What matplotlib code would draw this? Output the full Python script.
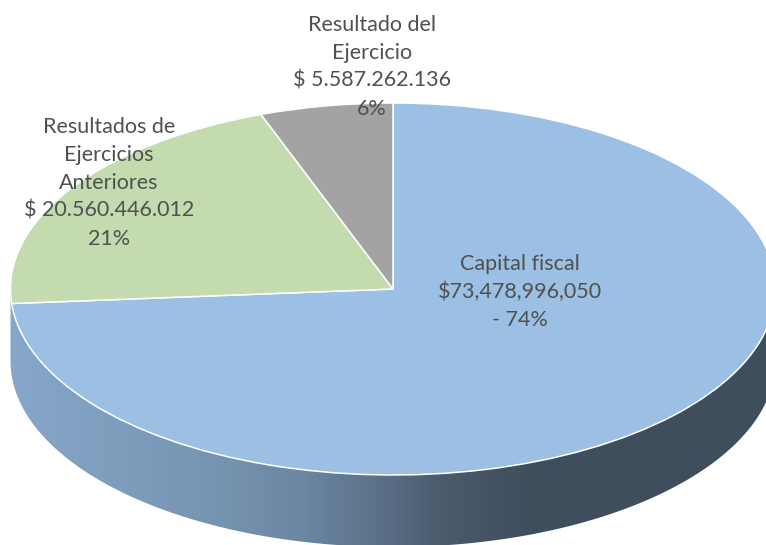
import numpy as np
import matplotlib
matplotlib.use("Agg")
import matplotlib.pyplot as plt
from matplotlib.colors import LinearSegmentedColormap
from matplotlib.patches import Polygon

categories = ["Capital fiscal", "Resultados de Ejercicios Anteriores", "Resultado del Ejercicio"]
values = [73478996050, 20560446012, 5587262136]
slice_colors = ["#9BC0E3", "#C3DBAE", "#A3A3A3"]
label_texts = ["Capital fiscal\n$73,478,996,050\n- 74%",
               "Resultados de\nEjercicios\nAnteriores\n$ 20.560.446.012\n21%",
               "Resultado del\nEjercicio\n$ 5.587.262.136\n6%"]

W, H = 766, 545
cx, cy, rx, ry = 393, 289, 382.5, 186
depth = 72 / ry

plt.rcParams['font.family'] = ['Lato', 'DejaVu Sans']
fig = plt.figure(figsize=(W / 100, H / 100), dpi=100)
ax = fig.add_axes([0, 0, 1, 1])
ax.pie(values, colors=slice_colors, startangle=90, counterclock=False, radius=1,
       wedgeprops=dict(edgecolor="white", linewidth=1.1))

xlim = (-cx / rx, (W - cx) / rx)
ylim = ((cy - H) / ry, cy / ry)

t = np.linspace(np.pi, 2 * np.pi, 300)
xs, ys = np.cos(t), np.sin(t)
verts = np.column_stack([np.r_[xs, xs[::-1]], np.r_[ys, ys[::-1] - depth]])
wall = Polygon(verts, closed=True, facecolor="none", edgecolor="none")
ax.add_patch(wall)
cmap = LinearSegmentedColormap.from_list("wall", [
    (0.0, "#86A7CA"), (0.353, "#7896B3"), (0.54, "#6C87A3"),
    (0.727, "#566B80"), (0.789, "#4C5D6F"), (0.97, "#3F4E5D"), (1.0, "#3F4E5D")])
grad = np.clip(np.linspace(0, 1, 512) / 0.70, 0, 1)[None, :]
im = ax.imshow(grad, cmap=cmap, extent=(-1, 1, -2, 1), aspect="auto", zorder=0.5,
               vmin=0, vmax=1, interpolation="bilinear")
im.set_clip_path(wall)

ax.set_aspect("auto")
ax.set_xlim(*xlim)
ax.set_ylim(*ylim)
ax.set_axis_off()

def to_data(px, py):
    return (px - cx) / rx, (cy - py) / ry

positions = [(520, 292), (109, 183), (372, 67)]
for txt, (px, py) in zip(label_texts, positions):
    x, y = to_data(px, py)
    ax.text(x, y, txt, ha="center", va="center", fontsize=15.5, color="#505050",
            linespacing=1.5, zorder=5)

fig.savefig("out.png", dpi=100)
